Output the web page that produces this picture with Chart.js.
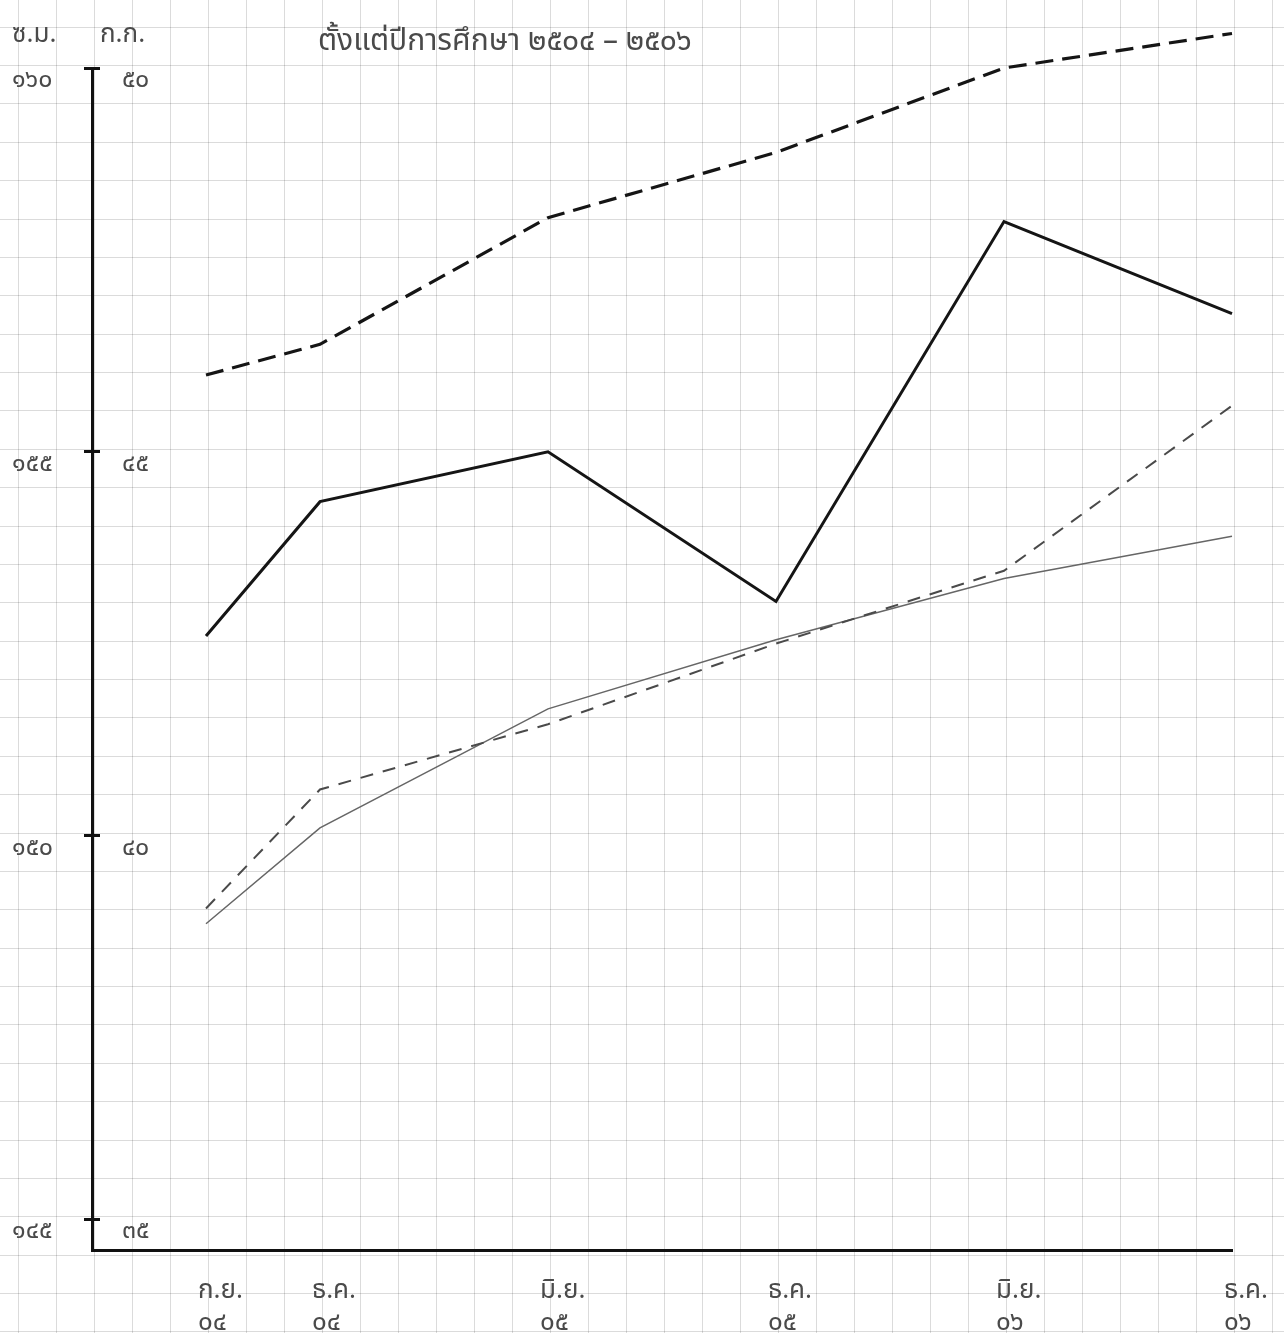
<!DOCTYPE html>
<html lang="th">
<head>
<meta charset="utf-8">
<title>ส่วนสูงและน้ำหนัก ๒๕๐๔ – ๒๕๐๖</title>
<script src="https://cdn.jsdelivr.net/npm/chart.js@4.4.1/dist/chart.umd.min.js"></script>
<style>
  html, body { margin: 0; padding: 0; background: #ffffff; }
  #wrap { width: 1284px; height: 1333px; position: relative; }
</style>
</head>
<body>
<div id="wrap"><canvas id="chart"></canvas></div>
<script>
// ---- data ----
const titleText = 'ตั้งแต่ปีการศึกษา ๒๕๐๔ – ๒๕๐๖';
const cmUnit = 'ซ.ม.';
const kgUnit = 'ก.ก.';

// months counted from ก.ย. ๒๕๐๔
const monthOffsets = [0, 3, 9, 15, 21, 27];
const monthLabels = ['ก.ย.', 'ธ.ค.', 'มิ.ย.', 'ธ.ค.', 'มิ.ย.', 'ธ.ค.'];
const yearLabels = ['๐๔', '๐๔', '๐๕', '๐๕', '๐๖', '๐๖'];

const cmTicks = [145, 150, 155, 160];
const cmTickLabels = ['๑๔๕', '๑๕๐', '๑๕๕', '๑๖๐'];
const kgTicks = [35, 40, 45, 50];
const kgTickLabels = ['๓๕', '๔๐', '๔๕', '๕๐'];

const heightUpper = [156.0, 156.4, 158.05, 158.9, 160.0, 160.45];   // cm, thick dashed
const weightUpper = [42.6, 44.35, 45.0, 43.05, 48.0, 46.8];         // kg, thick solid
const heightLower = [149.05, 150.6, 151.45, 152.5, 153.45, 155.6];  // cm, thin dashed
const weightLower = [38.85, 40.1, 41.65, 42.55, 43.35, 43.9];       // kg, thin solid

const FONT = "'Noto Sans Thai', 'Loma', 'Garuda', 'Norasi', 'DejaVu Sans Mono', monospace";

function pts(vals) { return monthOffsets.map((m, i) => ({ x: m, y: vals[i] })); }

const paperPlugin = {
  id: 'paper',
  beforeDraw(chart) {
    const { ctx, width, height } = chart;
    const xs = chart.scales.x, ys = chart.scales.cm;
    ctx.save();
    ctx.fillStyle = '#ffffff';
    ctx.fillRect(0, 0, width, height);
    ctx.strokeStyle = 'rgba(0,0,0,0.14)';
    ctx.lineWidth = 1;
    for (let m = -8; m <= 32; m++) {
      const px = Math.round(xs.getPixelForValue(m)) + 2.5;
      if (px < 0 || px > width) continue;
      ctx.beginPath(); ctx.moveTo(px, 0); ctx.lineTo(px, height); ctx.stroke();
    }
    for (let v = 142; v <= 162; v += 0.5) {
      const py = Math.round(ys.getPixelForValue(v)) - 2.5;
      if (py < 0 || py > height) continue;
      ctx.beginPath(); ctx.moveTo(0, py); ctx.lineTo(width, py); ctx.stroke();
    }
    ctx.restore();
  },
  afterDraw(chart) {
    const { ctx } = chart;
    ctx.save();
    ctx.fillStyle = '#4a4a4a';
    ctx.textBaseline = 'middle';
    ctx.textAlign = 'left';
    ctx.font = "26px " + FONT;
    ctx.fillText(cmUnit, 12, 37);
    ctx.fillText(kgUnit, 100, 37);
    ctx.font = "30px " + FONT;
    ctx.fillText(titleText, 318, 44);
    ctx.restore();
  }
};

new Chart(document.getElementById('chart'), {
  type: 'line',
  data: {
    datasets: [
      { label: 'ส่วนสูง (ก)', data: pts(heightUpper), yAxisID: 'cm',
        borderColor: '#151515', borderWidth: 3.2, borderDash: [18, 9] },
      { label: 'น้ำหนัก (ก)', data: pts(weightUpper), yAxisID: 'kg',
        borderColor: '#151515', borderWidth: 3 },
      { label: 'ส่วนสูง (ข)', data: pts(heightLower), yAxisID: 'cm',
        borderColor: '#4a4a4a', borderWidth: 2, borderDash: [13, 10] },
      { label: 'น้ำหนัก (ข)', data: pts(weightLower), yAxisID: 'kg',
        borderColor: '#666666', borderWidth: 1.5 }
    ]
  },
  options: {
    responsive: true,
    maintainAspectRatio: false,
    animation: false,
    clip: false,
    elements: { point: { radius: 0, hoverRadius: 0 }, line: { tension: 0, fill: false } },
    layout: { padding: { left: 12, top: 68, right: 52, bottom: 0 } },
    plugins: { legend: { display: false }, title: { display: false }, tooltip: { enabled: false } },
    scales: {
      x: {
        type: 'linear', position: 'bottom', min: -3, max: 27,
        afterBuildTicks(s) { s.ticks = monthOffsets.map(v => ({ value: v })); },
        afterFit(s) { s.height = 83; s.paddingLeft = 0; s.paddingRight = 0; },
        grid: { display: false },
        border: { display: true, color: '#111111', width: 3 },
        ticks: {
          autoSkip: false, maxRotation: 0, align: 'start', labelOffset: -8, padding: 18,
          color: '#4a4a4a', font: { family: FONT, size: 26, lineHeight: 1.25 },
          callback(v) { const i = monthOffsets.indexOf(v); return i < 0 ? '' : [monthLabels[i], yearLabels[i]]; }
        }
      },
      cm: {
        type: 'linear', position: 'left', weight: 1, min: 144.6, max: 160,
        afterBuildTicks(s) { s.ticks = cmTicks.map(v => ({ value: v })); },
        afterFit(s) { s.width = 80; s.paddingTop = 0; s.paddingBottom = 0; },
        grid: { display: true, drawOnChartArea: false, drawTicks: true, tickLength: 8, tickWidth: 3, tickColor: '#111111', color: '#111111' },
        border: { display: true, color: '#111111', width: 3 },
        ticks: {
          crossAlign: 'far', labelOffset: 14, padding: 0, color: '#4a4a4a',
          font: { family: FONT, size: 25 },
          callback(v) { const i = cmTicks.indexOf(v); return i < 0 ? '' : cmTickLabels[i]; }
        }
      },
      kg: {
        type: 'linear', position: 'left', weight: 0, min: 34.6, max: 50,
        afterBuildTicks(s) { s.ticks = kgTicks.map(v => ({ value: v })); },
        afterFit(s) { s.width = 0; s.paddingTop = 0; s.paddingBottom = 0; },
        grid: { display: true, drawOnChartArea: false, drawTicks: true, tickLength: -8, tickWidth: 3, tickColor: '#111111', color: '#111111' },
        border: { display: false },
        ticks: {
          mirror: true, labelOffset: 14, padding: 30, color: '#4a4a4a',
          font: { family: FONT, size: 25 },
          callback(v) { const i = kgTicks.indexOf(v); return i < 0 ? '' : kgTickLabels[i]; }
        }
      }
    }
  },
  plugins: [paperPlugin]
});
</script>
</body>
</html>
